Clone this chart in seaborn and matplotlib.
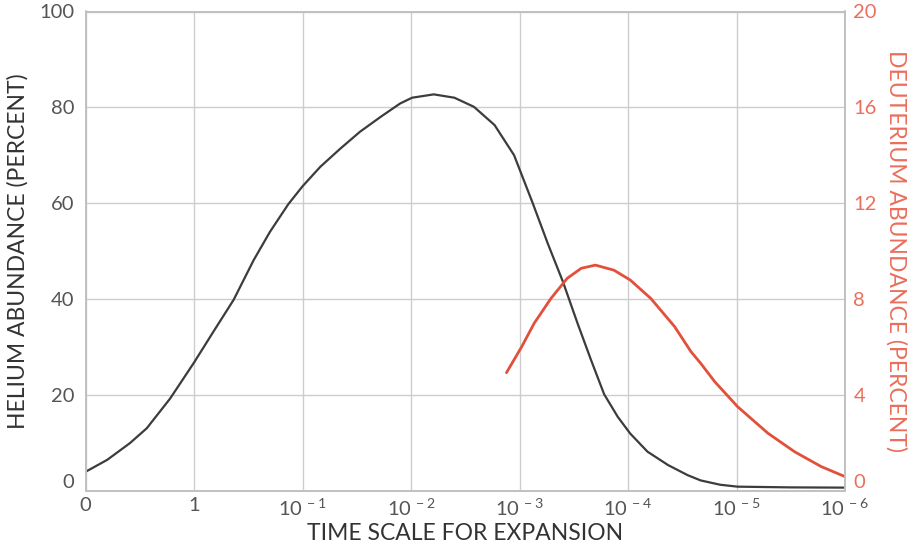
import matplotlib
matplotlib.use("Agg")
import matplotlib.pyplot as plt
import seaborn as sns
import pandas as pd

# ---- data ----
tick_labels = ["0", "1", r"$\mathregular{10^{\,-1}}$", r"$\mathregular{10^{\,-2}}$",
               r"$\mathregular{10^{\,-3}}$", r"$\mathregular{10^{\,-4}}$",
               r"$\mathregular{10^{\,-5}}$", r"$\mathregular{10^{\,-6}}$"]
helium_x = [0.0, 0.2, 0.41, 0.565, 0.78, 1.0, 1.18, 1.365, 1.55, 1.70, 1.87, 2.0,
            2.165, 2.35, 2.53, 2.72, 2.90, 3.01, 3.21, 3.40, 3.58, 3.77, 3.95, 4.12,
            4.26, 4.40, 4.535, 4.66, 4.78, 4.905, 5.02, 5.18, 5.37, 5.55, 5.67, 5.85,
            6.01, 6.5, 7.0]
helium_y = [3.9, 6.4, 9.9, 13.0, 19.2, 26.7, 33.2, 39.8, 48.1, 54.0, 59.8, 63.5,
            67.6, 71.4, 74.9, 78.0, 80.8, 82.0, 82.7, 82.0, 80.1, 76.3, 70.0, 60.1,
            51.6, 43.6, 34.9, 27.2, 20.1, 15.4, 11.9, 8.1, 5.3, 3.2, 2.1, 1.2,
            0.8, 0.65, 0.6]
deut_x = [3.88, 4.02, 4.135, 4.29, 4.44, 4.57, 4.70, 4.87, 5.02, 5.21, 5.43, 5.58,
          5.67, 5.80, 6.01, 6.29, 6.535, 6.78, 7.0]
deut_y = [4.92, 6.0, 6.98, 8.02, 8.86, 9.28, 9.41, 9.2, 8.79, 8.02, 6.84, 5.8,
          5.31, 4.54, 3.5, 2.39, 1.62, 1.0, 0.58]
helium_ticks = [0, 20, 40, 60, 80, 100]
deut_ticks = [0, 4, 8, 12, 16, 20]

helium = pd.DataFrame({"t": helium_x, "v": helium_y})
deut = pd.DataFrame({"t": deut_x, "v": deut_y})

sns.set_theme(style="white")
plt.rcParams["font.family"] = ["Lato", "DejaVu Sans"]
plt.rcParams["mathtext.fontset"] = "custom"
plt.rcParams["mathtext.rm"] = "Lato"

GRAY_TXT = "#555555"
RED = "#e2503a"
RED_TXT = "#ea6f5c"
GRID = "#cdcdcd"

fig = plt.figure(figsize=(9.14, 5.45), dpi=100)
ax = fig.add_axes([85.5 / 914, 1 - 490.5 / 545, 759.5 / 914, 479 / 545])
ax2 = ax.twinx()

sns.lineplot(data=helium, x="t", y="v", ax=ax, color="#3c3c3c", linewidth=1.6)
sns.lineplot(data=deut, x="t", y="v", ax=ax2, color=RED, linewidth=2.0)
for a in (ax, ax2):
    for ln in a.get_lines():
        ln.set_solid_joinstyle("round")

ax.set_xlim(0, 7)
ax.set_ylim(0, 100)
ax2.set_ylim(0, 20)

ax.set_xticks(range(8))
ax.set_xticklabels(tick_labels, fontsize=14.5, color=GRAY_TXT)
ax.set_yticks(helium_ticks)
ax.set_yticklabels([str(v) for v in helium_ticks], fontsize=14.5, color=GRAY_TXT)
ax2.set_yticks(deut_ticks)
ax2.set_yticklabels([str(v) for v in deut_ticks], fontsize=14.5, color=RED_TXT)
ax.get_yticklabels()[0].set_va("bottom")
ax2.get_yticklabels()[0].set_va("bottom")

ax.tick_params(axis="x", length=0, pad=5)
ax.tick_params(axis="y", length=0, pad=8)
ax2.tick_params(axis="y", length=0, pad=6)

ax.grid(True, color=GRID, linewidth=1.0)
ax2.grid(False)
for a in (ax, ax2):
    for s in a.spines.values():
        s.set_color("#c0c0c0")
        s.set_linewidth(1.2)

ax.set_xlabel("TIME SCALE FOR EXPANSION", fontsize=16.5, color="#333333", labelpad=3)
ax.set_ylabel("HELIUM ABUNDANCE (PERCENT)", fontsize=16.5, color="#333333", labelpad=8)
ax2.set_ylabel("DEUTERIUM ABUNDANCE (PERCENT)", fontsize=16.5, color=RED_TXT,
               rotation=-90, labelpad=22)

fig.savefig("out.png", dpi=100, facecolor="white")
